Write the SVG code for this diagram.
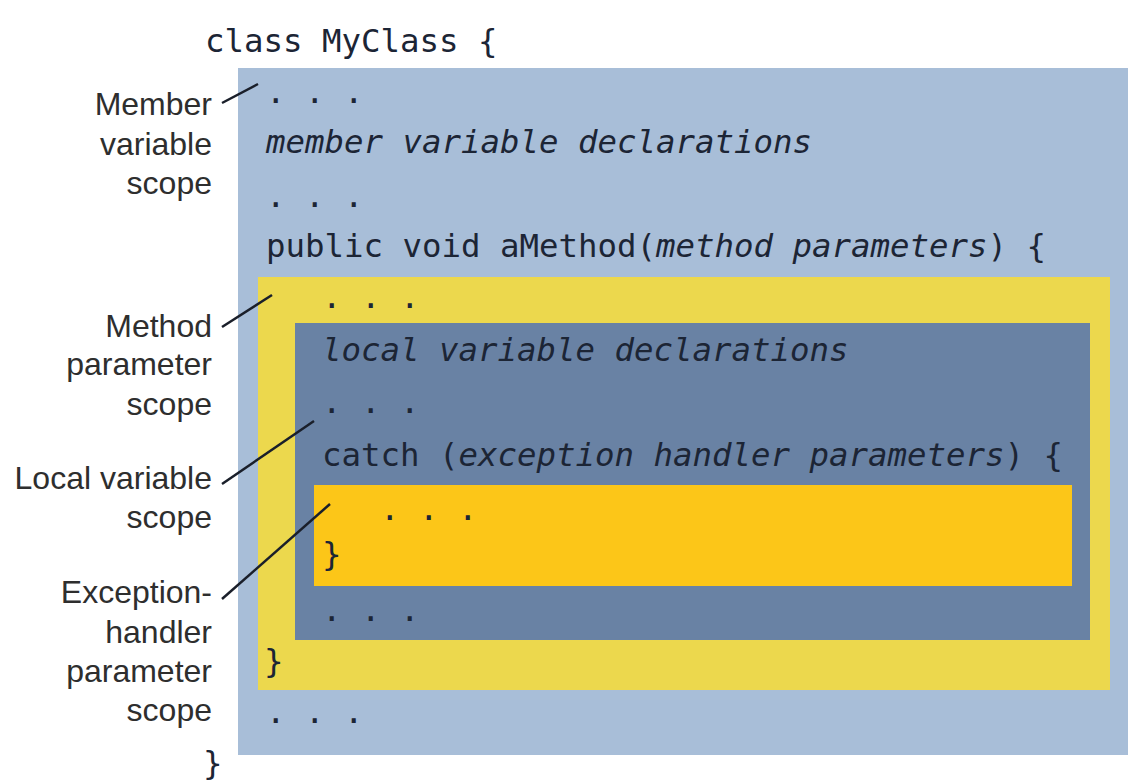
<svg xmlns="http://www.w3.org/2000/svg" width="1143" height="783" viewBox="0 0 1143 783">
<style>
.code{font-family:"DejaVu Sans Mono","Liberation Mono",monospace;font-size:32.4px;fill:#1c2535}
.it{font-style:italic}
.lbl{font-family:"Liberation Sans",Arial,sans-serif;font-size:32px;fill:#2e2e2e;text-anchor:end}
.lead{stroke:#1a1f2a;stroke-width:2.5;fill:none}
</style>
<rect width="1143" height="783" fill="#ffffff"/>
<g id="class-scope">
<rect x="238" y="68" width="890" height="687" fill="#a8bed8"/>
</g>
<g id="method-scope">
<rect x="258" y="277" width="852" height="413" fill="#ecd84d"/>
</g>
<g id="local-scope">
<rect x="295" y="323" width="795" height="317" fill="#6982a4"/>
</g>
<g id="handler-scope">
<rect x="314" y="485" width="758" height="101" fill="#fcc618"/>
</g>
<g id="code">
<text class="code" x="205" y="52">class MyClass {</text>
<text class="code" x="266" y="103">. . .</text>
<text class="code it" x="266" y="153">member variable declarations</text>
<text class="code" x="266" y="207">. . .</text>
<text class="code" x="266" y="257">public void aMethod(<tspan class="it">method parameters</tspan>) {</text>
<text class="code" x="322" y="308">. . .</text>
<text class="code it" x="322" y="361">local variable declarations</text>
<text class="code" x="322" y="413">. . .</text>
<text class="code" x="322" y="466">catch (<tspan class="it">exception handler parameters</tspan>) {</text>
<text class="code" x="380" y="520">. . .</text>
<text class="code" x="322" y="565">}</text>
<text class="code" x="322" y="621">. . .</text>
<text class="code" x="264" y="672">}</text>
<text class="code" x="266" y="723">. . .</text>
<text class="code" x="203" y="774">}</text>
</g>
<g id="label-member">
<text class="lbl" x="212" y="115">Member</text>
<text class="lbl" x="212" y="155">variable</text>
<text class="lbl" x="212" y="194">scope</text>
</g>
<g id="label-method">
<text class="lbl" x="212" y="337">Method</text>
<text class="lbl" x="212" y="375">parameter</text>
<text class="lbl" x="212" y="415">scope</text>
</g>
<g id="label-local">
<text class="lbl" x="212" y="489">Local variable</text>
<text class="lbl" x="212" y="528">scope</text>
</g>
<g id="label-exception">
<text class="lbl" x="212" y="603">Exception-</text>
<text class="lbl" x="212" y="643">handler</text>
<text class="lbl" x="212" y="682">parameter</text>
<text class="lbl" x="212" y="721">scope</text>
</g>
<g id="connectors">
<line class="lead" x1="222" y1="103" x2="258" y2="84"/>
<line class="lead" x1="222" y1="327" x2="272" y2="295"/>
<line class="lead" x1="222" y1="484" x2="314" y2="421"/>
<line class="lead" x1="222" y1="599" x2="330" y2="504"/>
</g>
</svg>
